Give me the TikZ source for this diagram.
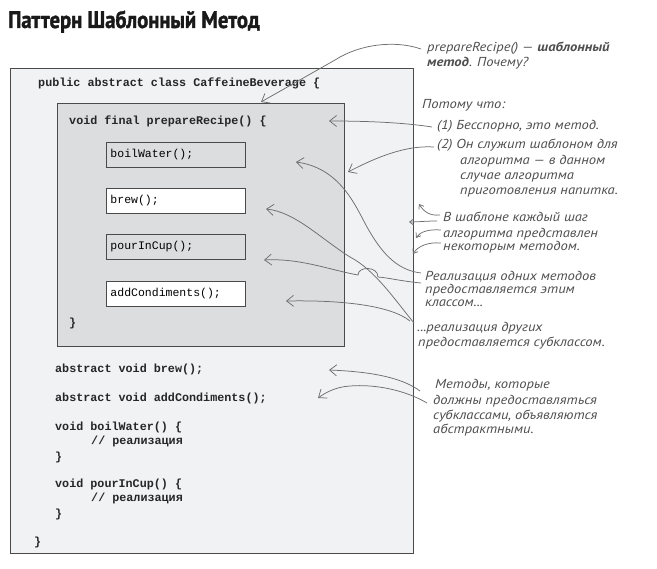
\documentclass[tikz,border=0pt]{standalone}
\usepackage{fontspec}
\usetikzlibrary{arrows.meta}
\newfontfamily\codefont{Liberation Mono}
\newfontfamily\handfont{PT Sans}[FakeStretch=1.12]
\newfontfamily\titlefont{PT Sans}[FakeStretch=0.86,FakeBold=1.5]
\definecolor{outerfill}{HTML}{F1F2F3}
\definecolor{innerfill}{HTML}{DCDDDF}
\definecolor{boxline}{HTML}{4A4A4A}
\definecolor{handgray}{HTML}{4E4E4E}
\definecolor{arrowgray}{HTML}{6E6E6E}
\tikzset{
  code/.style={font=\codefont\bfseries\fontsize{11.75}{14}\selectfont, anchor=base west, inner sep=0pt, text=black!85},
  callbox/.style={draw=boxline, line width=0.9pt, anchor=north west, minimum height=25pt, text width=131pt, inner xsep=4pt, align=left,
    font=\codefont\fontsize{11.5}{14}\selectfont, text height=8pt, text depth=2.5pt},
  hand/.style={font=\handfont\itshape\fontsize{13}{15}\selectfont, text=handgray, anchor=base west, inner sep=0pt},
  note/.style={draw=arrowgray, line width=0.75pt, -{Straight Barb[length=7pt,width=11pt]}},
  smallnote/.style={draw=arrowgray, line width=0.75pt, -{Straight Barb[length=4pt,width=6pt]}}
}
\begin{document}
\begin{tikzpicture}[x=1pt,y=-1pt]
\useasboundingbox (0,0) rectangle (657,569);
% title
\node[font=\titlefont\bfseries\fontsize{24}{28}\selectfont, anchor=base west, inner sep=0pt, text=black!90] (title) at (8,28) {Паттерн Шаблонный Метод};
% boxes
\node[draw=boxline, fill=outerfill, line width=1.1pt, anchor=north west, minimum width=403pt, minimum height=485pt, inner sep=0pt] (outer) at (10,68) {};
\node[code] (cls) at (38,87) {public abstract class CaffeineBeverage \{};
\node[draw=boxline, fill=innerfill, line width=1pt, anchor=north west, minimum width=287pt, minimum height=243pt, inner sep=0pt] (inner) at (57,103) {};
\node[code] (prep) at (69,125) {void final prepareRecipe() \{};
\node[callbox, fill=innerfill] (bw) at (106,142) {boilWater();};
\node[callbox, fill=white] (br) at (106,188) {brew();};
\node[callbox, fill=innerfill] (pc) at (106,234) {pourInCup();};
\node[callbox, fill=white] (ac) at (106,281) {addCondiments();};
\node[code] (cl1) at (69,327) {\}};
\node[code] (abr) at (55,373) {abstract void brew();};
\node[code] (aac) at (55,402) {abstract void addCondiments();};
\node[code] (vbw) at (55,431) {void boilWater() \{};
\node[code] (r1) at (91,445) {// реализация};
\node[code] (cl2) at (55,461) {\}};
\node[code] (vpc) at (55,488) {void pourInCup() \{};
\node[code] (r2) at (91,502) {// реализация};
\node[code] (cl3) at (55,518) {\}};
\node[code] (cl4) at (34,546) {\}};
% annotations
\node[hand] (t1a) at (427,52) {prepareRecipe() — \textbf{шаблонный}};
\node[hand] (t1b) at (427,67) {\textbf{метод}. Почему?};
\node[hand] (t2) at (422,109) {Потому что:};
\node[hand] (t3) at (437,130) {(1) Бесспорно, это метод.};
\node[hand] (t4a) at (437,149) {(2) Он служит шаблоном для};
\node[hand] (t4b) at (460,165) {алгоритма — в данном};
\node[hand] (t4c) at (460,180) {случае алгоритма};
\node[hand] (t4d) at (460,195) {приготовления напитка.};
\node[hand] (t5a) at (443,222) {В шаблоне каждый шаг};
\node[hand] (t5b) at (443,238) {алгоритма представлен};
\node[hand] (t5c) at (443,251) {некоторым методом.};
\node[hand] (t6a) at (425,281) {Реализация одних методов};
\node[hand] (t6b) at (425,294) {предоставляется этим};
\node[hand] (t6c) at (425,307) {классом...};
\node[hand] (t7a) at (417,332) {...реализация других};
\node[hand] (t7b) at (418,347) {предоставляется субклассом.};
\node[hand] (t8a) at (435,389) {Методы, которые};
\node[hand] (t8b) at (433,405) {должны предоставляться};
\node[hand] (t8c) at (433,420) {субклассами, объявляются};
\node[hand] (t8d) at (433,434) {абстрактными.};
% arrow coordinates
\coordinate (a1s) at (421,49);
\coordinate (a1m) at (335,60);
\coordinate (a1e) at (261,102);
\coordinate (a2s) at (432,127);
\coordinate (a2e) at (329,121);
\coordinate (a3s) at (434,147);
\coordinate (a3e) at (348,172);
\coordinate (s1s) at (440,215); \coordinate (s1e) at (419,204);
\coordinate (s2s) at (437,221); \coordinate (s2e) at (409,222);
\coordinate (s3s) at (441,230); \coordinate (s3e) at (416,238);
\coordinate (s4s) at (441,243); \coordinate (s4e) at (413,254);
\coordinate (r1s) at (421,273); \coordinate (r1m) at (367,227); \coordinate (r1e) at (296,162);
\coordinate (r2s) at (421,283); \coordinate (r2a) at (378,277); \coordinate (r2b) at (358,275); \coordinate (r2e) at (264,260);
\coordinate (r3s) at (414,323); \coordinate (r3m) at (350,257); \coordinate (r3e) at (266,209);
\coordinate (r4s) at (410,321); \coordinate (r4e) at (286,301);
\coordinate (m1s) at (420,391); \coordinate (m1e) at (329,370);
\coordinate (m2s) at (427,403); \coordinate (m2m) at (350,386); \coordinate (m2e) at (318,398);
% arrows
\draw[note] (a1s) .. controls (395,40) and (360,44) .. (a1m) -- (a1e);
\draw[note] (a2s) .. controls (400,122) and (360,121) .. (a2e);
\draw[note] (a3s) .. controls (405,145) and (375,158) .. (a3e);
\draw[smallnote] (s1s) .. controls (430,216) and (424,212) .. (s1e);
\draw[smallnote] (s2s) .. controls (425,221) and (418,222) .. (s2e);
\draw[smallnote] (s3s) .. controls (428,229) and (420,232) .. (s3e);
\draw[smallnote] (s4s) .. controls (428,242) and (418,246) .. (s4e);
\draw[note] (r1s) .. controls (395,270) and (380,250) .. (r1m) .. controls (355,205) and (340,168) .. (r1e);
\draw[note] (r3s) .. controls (395,300) and (375,270) .. (r3m) .. controls (320,238) and (295,212) .. (r3e);
\draw[note] (r2s) .. controls (400,281) and (390,278) .. (r2a) .. controls (378,266) and (358,266) .. (r2b) .. controls (330,270) and (300,258) .. (r2e);
\draw[note] (r4s) .. controls (390,305) and (340,300) .. (r4e);
\draw[note] (m1s) .. controls (405,380) and (380,372) .. (m1e);
\draw[note] (m2s) .. controls (405,390) and (375,384) .. (m2m) .. controls (335,387) and (325,393) .. (m2e);
\end{tikzpicture}
\end{document}
